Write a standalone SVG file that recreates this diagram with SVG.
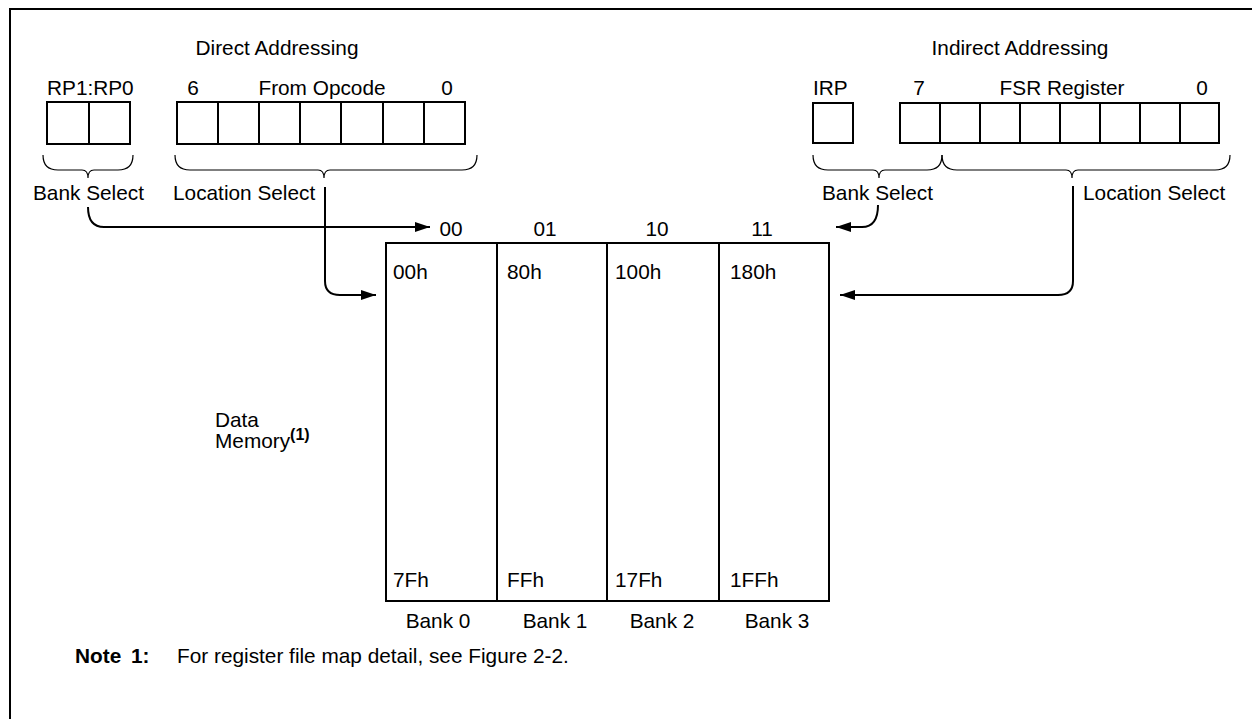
<svg xmlns="http://www.w3.org/2000/svg" width="1252" height="719" viewBox="0 0 1252 719">
<defs>
<style>
text{font-family:"Liberation Sans",Arial,sans-serif;font-size:20.8px;fill:#000}
.c{text-anchor:middle}
.b{font-weight:bold}
.box{fill:#fff;stroke:#000;stroke-width:2}
.ln{fill:none;stroke:#000;stroke-width:2}
.br{fill:none;stroke:#000;stroke-width:1.2}
</style>
<marker id="ah" markerUnits="userSpaceOnUse" markerWidth="16" markerHeight="12" refX="15" refY="5" orient="auto">
<path d="M0,0 L15,5 L0,10 Z" fill="#000"/>
</marker>
</defs>
<rect width="1252" height="719" fill="#fff"/>
<path d="M10,719 V9 H1252" class="ln"/>

<g id="direct">
<text x="277" y="55" class="c">Direct Addressing</text>
<text x="47" y="95">RP1:RP0</text>
<text x="193" y="95" class="c">6</text>
<text x="322" y="95" class="c">From Opcode</text>
<text x="447" y="95" class="c">0</text>
<g id="rp-reg">
<rect x="47" y="102" width="42" height="42" class="box"/>
<rect x="89" y="102" width="41" height="42" class="box"/>
</g>
<g id="opcode-reg">
<rect x="177" y="102" width="41" height="42" class="box"/>
<rect x="218" y="102" width="41" height="42" class="box"/>
<rect x="259" y="102" width="41" height="42" class="box"/>
<rect x="300" y="102" width="41" height="42" class="box"/>
<rect x="341" y="102" width="42" height="42" class="box"/>
<rect x="383" y="102" width="41" height="42" class="box"/>
<rect x="424" y="102" width="41" height="42" class="box"/>
</g>
<path d="M43,155 Q43,170 58,170 H82 Q88,170 88,178 Q88,170 94,170 H118 Q133,170 133,155" class="br"/>
<path d="M175,155 Q175,170 190,170 H318 Q324,170 324,178 Q324,170 330,170 H462 Q477,170 477,155" class="br"/>
<text x="33" y="200">Bank Select</text>
<text x="173" y="200">Location Select</text>
</g>

<g id="indirect">
<text x="1020" y="55" class="c">Indirect Addressing</text>
<text x="813" y="95">IRP</text>
<text x="919" y="95" class="c">7</text>
<text x="1062" y="95" class="c">FSR Register</text>
<text x="1202" y="95" class="c">0</text>
<g id="irp-reg">
<rect x="813" y="103" width="40" height="40" class="box"/>
</g>
<g id="fsr-reg">
<rect x="900" y="103" width="40" height="40" class="box"/>
<rect x="940" y="103" width="40" height="40" class="box"/>
<rect x="980" y="103" width="40" height="40" class="box"/>
<rect x="1020" y="103" width="40" height="40" class="box"/>
<rect x="1060" y="103" width="40" height="40" class="box"/>
<rect x="1100" y="103" width="40" height="40" class="box"/>
<rect x="1140" y="103" width="40" height="40" class="box"/>
<rect x="1180" y="103" width="39" height="40" class="box"/>
</g>
<path d="M813,155 Q813,170 828,170 H873 Q879,170 879,178 Q879,170 885,170 H927 Q942,170 942,155" class="br"/>
<path d="M942,155 Q942,170 957,170 H1066 Q1072,170 1072,178 Q1072,170 1078,170 H1215 Q1230,170 1230,155" class="br"/>
<text x="822" y="200">Bank Select</text>
<text x="1083" y="200">Location Select</text>
</g>

<g id="memory">
<rect x="386" y="243" width="443" height="358" class="box"/>
<path d="M497,243 V601 M607,243 V601 M719,243 V601" class="ln"/>
<text x="451" y="236" class="c">00</text>
<text x="545" y="236" class="c">01</text>
<text x="657" y="236" class="c">10</text>
<text x="762" y="236" class="c">11</text>
<text x="393" y="279">00h</text>
<text x="507" y="279">80h</text>
<text x="615" y="279">100h</text>
<text x="730" y="279">180h</text>
<text x="393" y="587">7Fh</text>
<text x="507" y="587">FFh</text>
<text x="615" y="587">17Fh</text>
<text x="730" y="587">1FFh</text>
<text x="438" y="628" class="c">Bank 0</text>
<text x="555" y="628" class="c">Bank 1</text>
<text x="662" y="628" class="c">Bank 2</text>
<text x="777" y="628" class="c">Bank 3</text>
</g>

<g id="data-memory-label">
<text x="215" y="427">Data</text>
<text x="215" y="448">Memory<tspan class="b" font-size="16" dy="-8">(1)</tspan></text>
</g>

<g id="note">
<text x="75" y="663"><tspan class="b">Note</tspan><tspan class="b" x="131">1:</tspan><tspan x="177">For register file map detail, see Figure 2-2.</tspan></text>
</g>

<g id="connectors">
<path d="M88,207 Q88,227 104,227 H430" class="ln" marker-end="url(#ah)"/>
<path d="M325,187 V281 Q325,295 340,295 H376" class="ln" marker-end="url(#ah)"/>
<path d="M878,205 Q878,227 862,227 H836" class="ln" marker-end="url(#ah)"/>
<path d="M1073,186 V281 Q1073,295 1058,295 H840" class="ln" marker-end="url(#ah)"/>
</g>
</svg>
